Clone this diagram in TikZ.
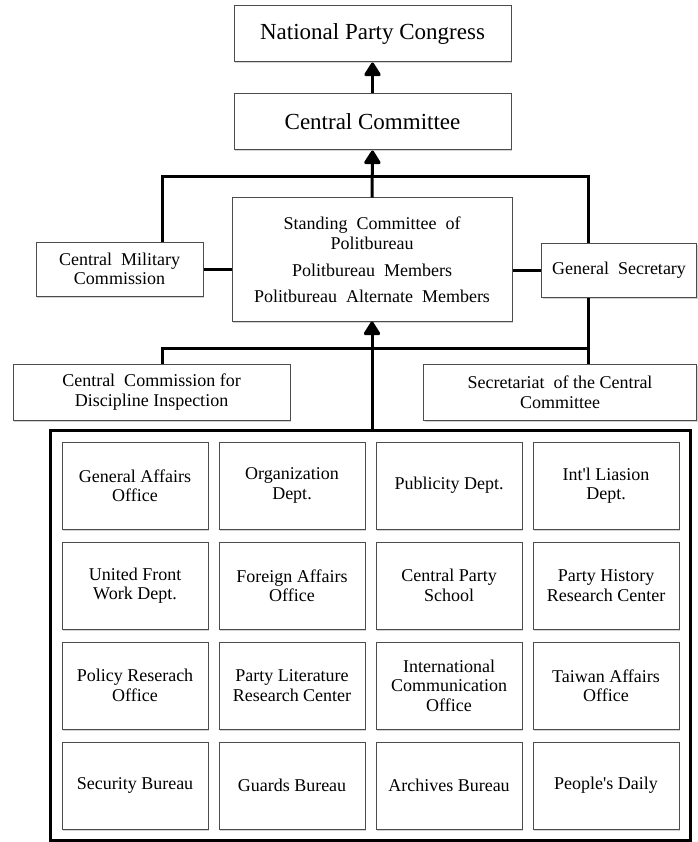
\documentclass[tikz,border=0pt]{standalone}
\usepackage{fontspec}
\setmainfont{Liberation Serif}
\usetikzlibrary{arrows.meta,shadows}
\begin{document}
\begin{tikzpicture}[x=1pt,y=-1pt,
  box/.style={draw=black!70, line width=1pt, fill=white,
    drop shadow={shadow xshift=1.2pt, shadow yshift=-1.5pt, opacity=0.35},
    align=center, inner sep=0pt, font=\fontsize{18}{19.5}\selectfont},
  bigbox/.style={box, font=\fontsize{23}{26}\selectfont},
  cell/.style={box, minimum width=146pt, minimum height=87pt},
  conn/.style={line width=3pt},
  arr/.style={line width=3pt, -{Triangle[length=15pt,width=18pt,round]}}
]
\useasboundingbox (0,0) rectangle (697,842);

\node[bigbox, minimum width=277pt, minimum height=56pt] (npc) at (372.5,34) {National Party Congress};
\node[bigbox, minimum width=277pt, minimum height=56pt] (cc) at (372.5,122) {Central Committee};
\node[box, minimum width=280pt, minimum height=123pt] (sc) at (372,259.5)
  {Standing\ \ Committee\ \ of\\Politbureau\\[8pt]Politbureau\ \ Members\\[6pt]Politbureau\ \ Alternate\ \ Members};
\node[box, minimum width=167pt, minimum height=54pt] (cmc) at (119.5,269) {Central\ \ Military\\Commission};
\node[box, minimum width=155pt, minimum height=54pt] (gs) at (619,270) {General\ \ Secretary};
\node[box, minimum width=277pt, minimum height=56pt] (ccdi) at (151.5,392) {Central\ \ Commission for\\Discipline Inspection};
\node[box, minimum width=273pt, minimum height=56pt] (sec) at (560,392) {Secretariat\ \ of the Central\\Committee};

\node[draw=black, line width=3pt, minimum width=640pt, minimum height=410pt, inner sep=0pt] (dept) at (370,635) {};

\foreach \txt [count=\i from 0] in {
  {General Affairs\\Office}, {Organization\\Dept.}, {Publicity Dept.}, {Int\textquotesingle l Liasion\\Dept.},
  {United Front\\Work Dept.}, {Foreign Affairs\\Office}, {Central Party\\School}, {Party History\\Research Center},
  {Policy Reserach\\Office}, {Party Literature\\Research Center}, {International\\Communication\\Office}, {Taiwan Affairs\\Office},
  {Security Bureau}, {Guards Bureau}, {Archives Bureau}, {People\textquotesingle s Daily}} {
  \pgfmathtruncatemacro{\col}{mod(\i,4)}
  \pgfmathtruncatemacro{\row}{div(\i,4)}
  \node[cell] (c\i) at ({62+73+157*\col},{442+43.5+100*\row}) {\txt};
}

\coordinate (tl) at (162,177);
\coordinate (tr) at (588,177);
\coordinate (bl) at (162,348);
\coordinate (br) at (588,348);

\draw[arr] (cc.north) -- (npc.south);
\draw[arr] (sc.north) -- (cc.south);
\draw[conn] (cmc.north -| tl) -- (tl) -- (tr) -- (gs.north -| tr);
\draw[conn] (cmc.east) -- (cmc.east -| sc.west);
\draw[conn] (gs.west) -- (gs.west -| sc.east);
\draw[conn] (ccdi.north -| bl) -- (bl) -- (br);
\draw[conn] (gs.south -| br) -- (sec.north -| br);
\draw[arr] (dept.north -| sc.south) -- (sc.south);
\end{tikzpicture}
\end{document}
